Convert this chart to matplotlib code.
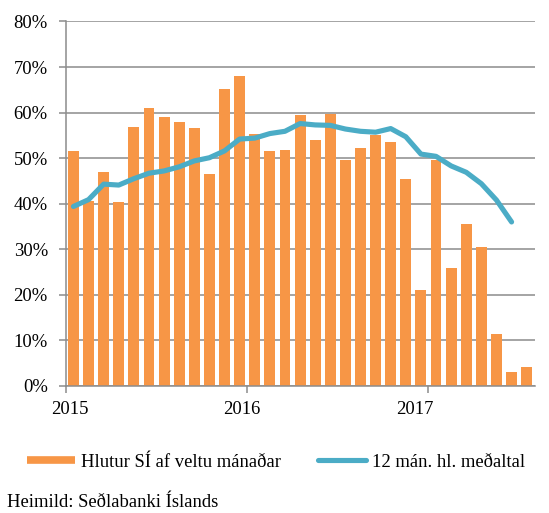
import numpy as np
import matplotlib.pyplot as plt
from matplotlib.lines import Line2D

# monthly data, Jan 2015 - Jul 2017
share = [51.6, 40.7, 46.9, 40.4, 56.9, 61.1, 59.1, 58.0, 56.7, 46.5, 65.2, 68.0,
         55.3, 51.6, 51.9, 59.4, 54.0, 59.8, 49.6, 52.3, 55.1, 53.6, 45.4, 21.0,
         49.7, 25.8, 35.5, 30.4, 11.3, 3.0, 4.2]
avg12 = [39.4, 40.9, 44.3, 44.1, 45.5, 46.7, 47.2, 48.1, 49.4, 50.1, 51.6, 54.2,
         54.4, 55.4, 55.9, 57.6, 57.3, 57.2, 56.4, 55.9, 55.7, 56.5, 54.7, 50.9,
         50.4, 48.3, 46.9, 44.4, 40.8, 36.0]
years = ["2015", "2016", "2017"]
yticks = [0, 10, 20, 30, 40, 50, 60, 70, 80]

plt.rcParams['font.family'] = ['Liberation Serif', 'DejaVu Serif']
plt.rcParams['font.size'] = 13.4

orange = "#F79646"
blue = "#4BACC6"
gray = "#8C8C8C"

fig = plt.figure(figsize=(5.49, 5.13), dpi=100)
ax = fig.add_axes([0.120, 0.2476, 0.8545, 0.7105])

x = np.arange(len(share))
ax.bar(x, share, width=0.72, color=orange, zorder=2)
ax.plot(np.arange(len(avg12)), avg12, color=blue, lw=3.7, solid_capstyle='round',
        solid_joinstyle='round', zorder=3)

ax.set_ylim(0, 80)
ax.set_xlim(-0.5, len(share) - 0.45)
ax.set_yticks(yticks)
ax.set_yticklabels(["%d%%" % v for v in yticks])
ax.yaxis.grid(True, color=gray, lw=1.1, zorder=0)
ax.set_axisbelow(True)

# year boundaries as major ticks, labels as minor ticks
ax.set_xticks([-0.5, 11.5, 23.5])
ax.set_xticklabels([])
ax.set_xticks([-0.25, 11.15, 22.6], minor=True)
ax.set_xticklabels(years, minor=True)
ax.tick_params(axis='x', which='major', length=5, color=gray, width=1.1)
ax.tick_params(axis='x', which='minor', length=0, pad=11)
ax.tick_params(axis='y', length=5, color=gray, width=1.1, pad=8)

for s in ['top', 'right']:
    ax.spines[s].set_visible(False)
for s in ['left', 'bottom']:
    ax.spines[s].set_color(gray)
    ax.spines[s].set_linewidth(1.1)

handles = [Line2D([], [], color=orange, lw=5.5, solid_capstyle='butt'),
           Line2D([], [], color=blue, lw=3.7, solid_capstyle='round')]
fig.legend(handles, ["Hlutur SÍ af veltu mánaðar", "12 mán. hl. meðaltal"],
           loc='center left', bbox_to_anchor=(0.049, 0.099), ncol=2, frameon=False,
           handlelength=2.6, handletextpad=0.3, columnspacing=2.0, borderaxespad=0,
           borderpad=0)

fig.text(0.013, 0.004, "Heimild: Seðlabanki Íslands", ha='left', va='bottom')

fig.savefig("out.png", dpi=100)
